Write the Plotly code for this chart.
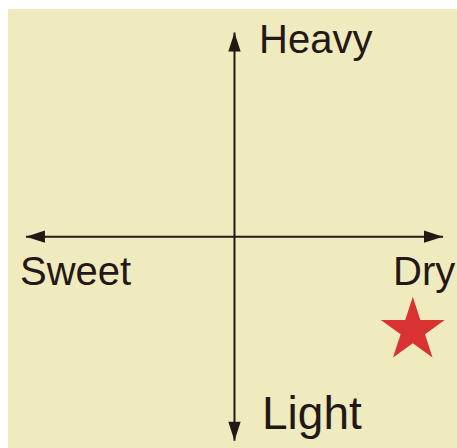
import plotly.graph_objects as go

# Data: two taste axes and one marked position
axis_extent = [-1, 1]
axis_labels = ["Heavy", "Light", "Sweet", "Dry"]
label_x = [0.106, 0.123, -1.038, 0.751]
label_y = [0.966, -0.866, -0.17, -0.17]
star_x = [0.855]
star_y = [-0.459]

ink = "#231815"
bg = "#EFEBBF"

fig = go.Figure()

# axis lines
fig.add_trace(go.Scatter(
    x=axis_extent, y=[0, 0], mode="lines",
    line=dict(color=ink, width=2), showlegend=False, hoverinfo="skip"
))
fig.add_trace(go.Scatter(
    x=[0, 0], y=axis_extent, mode="lines",
    line=dict(color=ink, width=2), showlegend=False, hoverinfo="skip"
))

# arrow heads at the four axis ends
fig.add_trace(go.Scatter(
    x=[axis_extent[1], axis_extent[0], 0, 0],
    y=[0, 0, axis_extent[1], axis_extent[0]],
    mode="markers",
    marker=dict(symbol="arrow", size=20, color=ink, angle=[90, 270, 0, 180],
                line=dict(width=0)),
    showlegend=False, hoverinfo="skip"
))

# Star marker
fig.add_trace(go.Scatter(
    x=star_x, y=star_y, mode="markers",
    marker=dict(symbol="star", size=48, color="#D93232", line=dict(width=0)),
    showlegend=False, hoverinfo="skip"
))

annotations = []
sizes = [40, 46, 40, 40]
for lab, lx, ly, sz in zip(axis_labels, label_x, label_y, sizes):
    annotations.append(dict(
        x=lx, y=ly, xref="x", yref="y", text=lab, showarrow=False,
        xanchor="left", yanchor="middle",
        font=dict(family="Liberation Sans, Arial, sans-serif", size=sz, color=ink)
    ))

fig.update_layout(
    width=449, height=440,
    margin=dict(l=0, r=0, t=1, b=0),
    paper_bgcolor="white",
    plot_bgcolor=bg,
    xaxis=dict(range=[-1.086, 1.067], visible=False, fixedrange=True),
    yaxis=dict(range=[-1.035, 1.115], visible=False, fixedrange=True),
    annotations=annotations,
    showlegend=False
)

# keep the page from scrolling so the plot reaches the window edges
page_js = ("document.body.style.margin='8px 0 0 8px';"
           "document.body.style.overflow='hidden';"
           "document.documentElement.style.overflow='hidden';")
fig.write_html("out.html", config={"displayModeBar": False}, post_script=page_js)
